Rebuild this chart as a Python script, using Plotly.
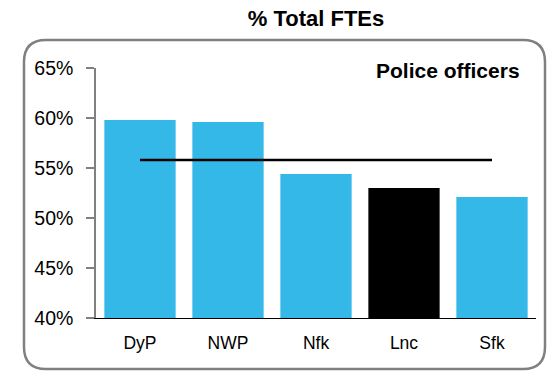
import plotly.graph_objects as go

# data
forces = ["DyP", "NWP", "Nfk", "Lnc", "Sfk"]
officer_share = [59.8, 59.6, 54.4, 53.0, 52.1]
bar_colors = ["#33B8E8", "#33B8E8", "#33B8E8", "#000000", "#33B8E8"]
average_share = 55.8
y_ticks = [40, 45, 50, 55, 60, 65]

W, H = 548, 372
ML, MR, MT, MB = 96, 12, 68, 54
PW, PH = W - ML - MR, H - MT - MB


def px_to_paper(x, y):
    return (x - ML) / PW, (H - MB - y) / PH


def rounded_rect(x0, y0, x1, y1, r):
    # rounded box drawn in pixel space, converted to paper coords
    def p(x, y):
        a, b = px_to_paper(x, y)
        return f"{a:.5f},{b:.5f}"
    return " ".join([
        f"M {p(x0 + r, y0)}",
        f"L {p(x1 - r, y0)}",
        f"Q {p(x1, y0)} {p(x1, y0 + r)}",
        f"L {p(x1, y1 - r)}",
        f"Q {p(x1, y1)} {p(x1 - r, y1)}",
        f"L {p(x0 + r, y1)}",
        f"Q {p(x0, y1)} {p(x0, y1 - r)}",
        f"L {p(x0, y0 + r)}",
        f"Q {p(x0, y0)} {p(x0 + r, y0)} Z",
    ])


fig = go.Figure()
fig.add_trace(go.Bar(
    x=forces,
    y=officer_share,
    marker_color=bar_colors,
    marker_line_width=0,
    hovertemplate="<b>%{x}</b><br>%{y:.1f}%<extra></extra>",
))
fig.add_trace(go.Scatter(
    x=[forces[0], forces[-1]],
    y=[average_share, average_share],
    mode="lines",
    line=dict(color="#000000", width=2.5),
    hoverinfo="skip",
))

fig.add_shape(
    type="path",
    xref="paper", yref="paper",
    path=rounded_rect(24, 40, 545, 369, 22),
    line=dict(color="#808080", width=2.5),
    layer="below",
)

fig.add_annotation(
    text="<b>Police officers</b>",
    xref="paper", yref="paper",
    x=px_to_paper(522, 0)[0], y=px_to_paper(0, 70)[1],
    xanchor="right", yanchor="middle",
    showarrow=False,
    font=dict(size=21, color="#000000"),
)

fig.update_layout(
    width=W, height=H,
    margin=dict(l=ML, r=MR, t=MT, b=MB, pad=0),
    paper_bgcolor="white",
    plot_bgcolor="white",
    showlegend=False,
    bargap=0.19,
    font=dict(family="Liberation Sans, Arial, sans-serif", size=16, color="#000000"),
    title=dict(
        text="<b>% Total FTEs</b>",
        x=0.5, xref="paper", xanchor="center",
        y=1 - 18 / H, yanchor="middle",
        font=dict(size=22),
    ),
)
fig.update_xaxes(
    showline=True, linecolor="#000000", linewidth=1,
    ticks="", showgrid=False,
    ticklabelstandoff=9,
    tickfont=dict(size=17.5),
)
fig.update_yaxes(
    range=[40, 65],
    tickvals=y_ticks,
    ticktext=[f"{v}%" for v in y_ticks],
    showline=True, linecolor="#808080", linewidth=1.5,
    ticks="outside", ticklen=8, tickcolor="#808080", tickwidth=1.5,
    ticklabelstandoff=9,
    showgrid=False, zeroline=False,
    tickfont=dict(size=19.5),
)

# drop the browser's default body margin so the figure sits at the page origin
fig.write_html(
    "out.html",
    config={"displayModeBar": False},
    post_script="document.body.style.margin='0';",
)
